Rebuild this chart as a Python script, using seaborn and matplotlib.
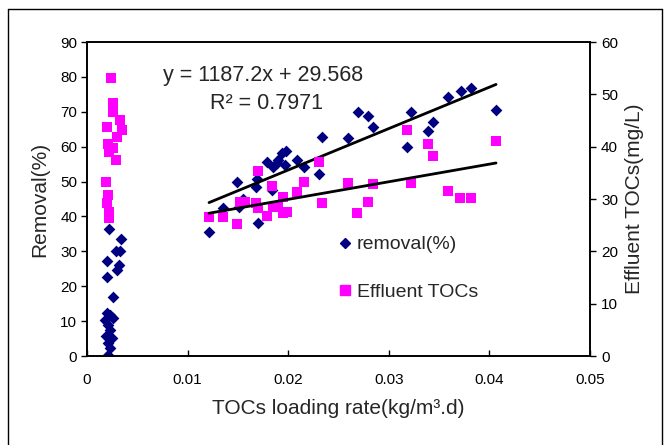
import numpy as np
import pandas as pd
import seaborn as sns
import matplotlib
matplotlib.use("Agg")
import matplotlib.pyplot as plt
from matplotlib.lines import Line2D

# ---------------- data ----------------
# Removal (%) vs TOCs loading rate -- left axis
rem_x = [0.0022, 0.0034, 0.0029, 0.0033, 0.0020, 0.0032, 0.0030, 0.0020, 0.0026,
         0.0020, 0.0023, 0.0026, 0.0018, 0.0021, 0.0023, 0.0019, 0.0025, 0.0021,
         0.0023, 0.0021,
         0.01213, 0.01355, 0.01488, 0.01514, 0.01554, 0.0168, 0.01693, 0.01703,
         0.01786, 0.01836, 0.01846, 0.01886, 0.01902, 0.01935, 0.01978, 0.01968,
         0.02084, 0.02157, 0.02309, 0.02333, 0.02598, 0.02691, 0.02797, 0.02846,
         0.03178, 0.03221, 0.03393, 0.03436, 0.03585, 0.03715, 0.03817, 0.04066]
rem_y = [36.4, 33.6, 30.0, 30.0, 27.1, 26.1, 24.6, 22.7, 17.0,
         12.3, 11.8, 11.0, 10.3, 8.9, 7.4, 5.7, 5.2, 3.7,
         2.3, 0.3,
         35.4, 42.3, 49.8, 42.8, 44.9, 48.5, 50.7, 38.2,
         55.7, 47.6, 54.1, 55.2, 56.2, 58.1, 58.8, 54.7,
         56.2, 54.2, 52.3, 62.8, 62.6, 70.0, 68.8, 65.7,
         59.8, 69.8, 64.6, 67.1, 74.3, 75.9, 76.7, 70.5]

# Effluent TOCs (mg/L) vs TOCs loading rate -- right axis
eff_x = [0.0024, 0.0026, 0.0026, 0.0033, 0.0020, 0.0035, 0.0030, 0.0021, 0.0026,
         0.0022, 0.0029, 0.0019, 0.0021, 0.0020, 0.0022, 0.0022,
         0.01213, 0.01355, 0.01488, 0.01521, 0.01571, 0.0168, 0.01703, 0.01703,
         0.01786, 0.01836, 0.01852, 0.01902, 0.01952, 0.01945, 0.01985, 0.02084,
         0.02157, 0.02306, 0.02333, 0.02592, 0.02687, 0.02797, 0.02846, 0.03178,
         0.03221, 0.03393, 0.03436, 0.03585, 0.03708, 0.03817, 0.04066]
eff_y = [53.2, 48.3, 46.7, 45.1, 43.8, 43.2, 41.9, 40.6, 39.7,
         39.0, 37.5, 33.3, 30.8, 29.2, 27.6, 26.3,
         26.5, 26.5, 25.2, 29.5, 29.5, 29.2, 35.4, 28.2,
         26.8, 32.5, 28.5, 28.5, 30.3, 27.4, 27.6, 31.4,
         33.2, 37.1, 29.3, 33.0, 27.3, 29.5, 32.9, 43.1,
         33.1, 40.5, 38.2, 31.5, 30.1, 30.1, 41.0]

# trend lines (coefficients)
rem_slope, rem_intercept = 1187.2, 29.568
eff_slope, eff_intercept = 336.5, 23.2
trend_x_range = [0.01213, 0.04066]

x_ticks = [0, 0.01, 0.02, 0.03, 0.04, 0.05]
x_ticklabels = ["0", "0.01", "0.02", "0.03", "0.04", "0.05"]
left_ticks = [0, 10, 20, 30, 40, 50, 60, 70, 80, 90]
right_ticks = [0, 10, 20, 30, 40, 50, 60]

eq_text = "y = 1187.2x + 29.568"
r2_text = "R² = 0.7971"

# ---------------- plot ----------------
sns.set_theme(style="white")
plt.rcParams['font.family'] = ['Liberation Sans', 'DejaVu Sans']

NAVY = "#000080"
MAG = "#FF00FF"

fig = plt.figure(figsize=(6.68, 4.45), dpi=100)
ax = fig.add_axes([87/668, 1-356/445, (590-87)/668, (356-42)/445])
ax2 = ax.twinx()

df_r = pd.DataFrame({"x": rem_x, "y": rem_y})
df_e = pd.DataFrame({"x": eff_x, "y": eff_y})

sns.scatterplot(data=df_r, x="x", y="y", ax=ax, marker="D", s=36, color=NAVY,
                edgecolor=NAVY, linewidth=0, zorder=2)
sns.scatterplot(data=df_e, x="x", y="y", ax=ax2, marker="s", s=55, color=MAG,
                edgecolor=MAG, linewidth=0, zorder=2)

tx = np.array(trend_x_range)
ax.plot(tx, rem_slope*tx + rem_intercept, color="black", lw=2, zorder=5)
ax2.plot(tx, eff_slope*tx + eff_intercept, color="black", lw=2, zorder=5)

ax.set_xlim(0, 0.05)
ax.set_ylim(0, 90)
ax2.set_ylim(0, 60)
ax.set_xticks(x_ticks)
ax.set_xticklabels(x_ticklabels)
ax.set_yticks(left_ticks)
ax2.set_yticks(right_ticks)

for a in (ax, ax2):
    for sp in a.spines.values():
        sp.set_color("black")
        sp.set_linewidth(1.2)
    a.set_xlabel("")
    a.set_ylabel("")
    a.grid(False)

ax.tick_params(axis="y", direction="out", length=4, width=1, colors="black",
               labelsize=11, pad=3, left=True)
ax.tick_params(axis="x", direction="in", length=4, width=1, colors="black",
               labelsize=11, pad=12, bottom=True)
ax2.tick_params(axis="y", direction="out", length=4, width=1, colors="black",
                labelsize=11, pad=4, right=True)

ax.set_xlabel("TOCs loading rate(kg/m³.d)", fontsize=15, labelpad=9)
ax.set_ylabel("Removal(%)", fontsize=15, labelpad=8)
ax2.set_ylabel("Effluent TOCs(mg/L)", fontsize=15, labelpad=5)

ax.text(0.00755, 80.5, eq_text, fontsize=15.5, ha="left", va="center")
ax.text(0.0122, 72.5, r2_text, fontsize=15.5, ha="left", va="center")

handles = [Line2D([], [], marker="D", color=NAVY, ls="none", markersize=5),
           Line2D([], [], marker="s", color=MAG, ls="none", markersize=7.5)]
ax2.legend(handles, ["removal(%)", "Effluent TOCs"], loc="center left",
           bbox_to_anchor=(0.482, 0.279), frameon=False, fontsize=14,
           borderaxespad=0, handlelength=0.8, handletextpad=0.2, labelspacing=1.55)

# figure border
fig.add_artist(Line2D([8/668, 8/668], [0, 1-9/445], transform=fig.transFigure,
                      color="black", lw=1))
fig.add_artist(Line2D([8/668, 662/668], [1-9/445, 1-9/445], transform=fig.transFigure,
                      color="black", lw=1))
fig.add_artist(Line2D([662/668, 662/668], [0, 1-9/445], transform=fig.transFigure,
                      color="black", lw=1))

fig.savefig("out.png", dpi=100)
